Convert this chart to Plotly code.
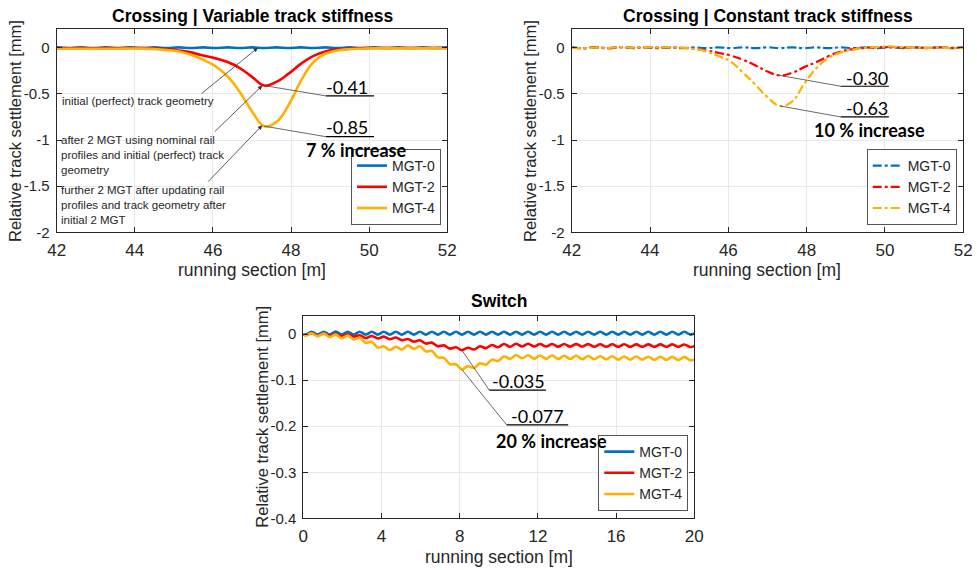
import numpy as np
import plotly.graph_objects as go

W, H = 977, 570

# ---------------- data ----------------
series_names = ["MGT-0", "MGT-2", "MGT-4"]

# crossing, sampled every 0.3125 m from 42 to 52 m
cross_x = [42.0 + 0.3125 * k for k in range(33)]

var_mgt0 = [0.004, -0.003, 0.004, -0.003, 0.004, -0.003, 0.004, -0.003, 0.004, -0.003,
            0.004, -0.003, 0.004, -0.003, 0.004, -0.003, 0.004, -0.003, 0.004, -0.003,
            0.004, -0.003, 0.004, -0.003, 0.004, -0.003, 0.004, -0.003, 0.004, -0.003,
            0.004, -0.003, 0.004]
var_mgt2 = [-0.004, -0.005, -0.004, -0.006, -0.004, -0.005, -0.003, -0.004, -0.008, -0.015,
            -0.030, -0.050, -0.085, -0.115, -0.155, -0.220, -0.315, -0.410, -0.370, -0.280,
            -0.175, -0.090, -0.040, -0.018, -0.010, -0.005, -0.002, -0.003, -0.002, -0.003,
            -0.002, -0.003, -0.002]
var_mgt4 = [-0.010, -0.011, -0.010, -0.012, -0.010, -0.011, -0.008, -0.009, -0.014, -0.024,
            -0.040, -0.075, -0.130, -0.200, -0.310, -0.480, -0.690, -0.850, -0.805, -0.620,
            -0.360, -0.160, -0.065, -0.030, -0.016, -0.010, -0.006, -0.007, -0.006, -0.007,
            -0.006, -0.007, -0.006]

const_mgt0 = [0.005, -0.006, 0.004, -0.005, 0.006, -0.004, 0.005, -0.004, 0.004, -0.004,
              0.004, -0.004, 0.004, -0.004, 0.004, -0.004, 0.004, -0.004, 0.004, -0.004,
              0.004, -0.004, 0.004, -0.004, 0.004, -0.004, 0.004, -0.004, 0.004, -0.004,
              0.004, -0.004, 0.004]
const_mgt2 = [0.003, -0.004, 0.006, -0.005, 0.007, 0.000, 0.006, 0.002, 0.005, -0.002,
              -0.010, -0.030, -0.055, -0.085, -0.130, -0.190, -0.258, -0.300, -0.272, -0.210,
              -0.155, -0.090, -0.040, -0.015, 0.000, 0.004, 0.008, 0.002, 0.005, -0.002,
              0.004, 0.000, 0.003]
const_mgt4 = [0.002, -0.005, 0.004, -0.003, 0.008, 0.002, 0.007, 0.004, 0.006, 0.000,
              -0.012, -0.040, -0.090, -0.150, -0.270, -0.400, -0.535, -0.630, -0.585, -0.390,
              -0.220, -0.110, -0.050, -0.020, 0.000, 0.008, 0.014, 0.006, 0.004, -0.002,
              0.003, -0.004, 0.002]

# switch, sampled at wave crests and troughs
switch_x = [0.0] + [round(0.12 + 0.3075 * k, 4) for k in range(65)] + [20.0]

switch_mgt0 = [0.000,
               -0.001, 0.005, -0.001, 0.005, -0.001, 0.0055, -0.001, 0.005, -0.001, 0.005,
               -0.001, 0.005, -0.001, 0.005, -0.001, 0.005, -0.001, 0.005, -0.001, 0.005,
               -0.001, 0.005, -0.001, 0.005, -0.001, 0.005, -0.001, 0.005, -0.001, 0.005,
               -0.001, 0.005, -0.001, 0.005, -0.001, 0.005, -0.001, 0.005, -0.001, 0.005,
               -0.001, 0.005, -0.001, 0.005, -0.001, 0.005, -0.001, 0.005, -0.001, 0.005,
               -0.001, 0.005, -0.001, 0.005, -0.001, 0.005, -0.001, 0.005, -0.001, 0.005,
               -0.001, 0.005, -0.001, 0.005, -0.001,
               0.0015]
switch_mgt2 = [0.000,
               -0.002, 0.002, -0.003, 0.001, -0.0035, 0.0005, -0.0045, -0.0003, -0.0055, -0.0025,
               -0.0085, -0.004, -0.0095, -0.0055, -0.011, -0.0075, -0.0135, -0.0105, -0.0165, -0.0135,
               -0.0205, -0.0185, -0.0265, -0.0245, -0.0315, -0.0285, -0.035, -0.0295, -0.0335, -0.0265,
               -0.0305, -0.0235, -0.0285, -0.0215, -0.0275, -0.021, -0.027, -0.021, -0.027, -0.0215,
               -0.027, -0.0215, -0.0272, -0.0215, -0.0272, -0.0218, -0.0273, -0.0218, -0.0275, -0.022,
               -0.0275, -0.022, -0.0276, -0.022, -0.0277, -0.0222, -0.0278, -0.0222, -0.0278, -0.0223,
               -0.0279, -0.0223, -0.028, -0.0224, -0.028,
               -0.026]
switch_mgt4 = [0.000,
               -0.003, 0.002, -0.0045, 0.0015, -0.0065, -0.001, -0.009, -0.003, -0.0115, -0.008,
               -0.019, -0.0165, -0.0295, -0.0265, -0.0345, -0.0275, -0.0335, -0.0245, -0.032, -0.0265,
               -0.0375, -0.0365, -0.0505, -0.0515, -0.0655, -0.0655, -0.077, -0.0695, -0.0735, -0.0635,
               -0.0665, -0.0555, -0.0585, -0.0485, -0.0535, -0.0455, -0.0525, -0.046, -0.0535, -0.0465,
               -0.0535, -0.0465, -0.054, -0.047, -0.054, -0.047, -0.0545, -0.0475, -0.0545, -0.048,
               -0.055, -0.048, -0.0555, -0.0485, -0.0555, -0.0485, -0.0555, -0.049, -0.056, -0.049,
               -0.056, -0.0495, -0.0565, -0.0495, -0.057,
               -0.055]

cross_xticks = [42, 44, 46, 48, 50, 52]
cross_yticks = [0, -0.5, -1, -1.5, -2]
cross_yticklabels = ["0", "-0.5", "-1", "-1.5", "-2"]
switch_xticks = [0, 4, 8, 12, 16, 20]
switch_yticks = [0, -0.1, -0.2, -0.3, -0.4]
switch_yticklabels = ["0", "-0.1", "-0.2", "-0.3", "-0.4"]

# ---------------- styling ----------------
colors = ["#0072BD", "#FF0000", "#FFB000"]
AX_FONT = "Liberation Sans, Arial, sans-serif"
LBL_FONT = "Lato, Open Sans, sans-serif"
INK = "#262626"


def px(x):
    return x / W


def py(y):
    return 1 - y / H


fig = go.Figure()

panels = [
    ("x", "y", "legend", cross_x, [var_mgt0, var_mgt2, var_mgt4], "solid", 1.2),
    ("x2", "y2", "legend2", cross_x, [const_mgt0, const_mgt2, const_mgt4], "dashdot", 1.2),
    ("x3", "y3", "legend3", switch_x, [switch_mgt0, switch_mgt2, switch_mgt4], "solid", 0.9),
]
for xa, ya, leg, xs, ys_list, dash, smooth in panels:
    for name, ys, col in zip(series_names, ys_list, colors):
        fig.add_trace(go.Scatter(
            x=xs, y=ys, name=name, mode="lines", xaxis=xa, yaxis=ya, legend=leg,
            line=dict(color=col, width=2.6 if dash == "solid" else 2.2, dash=dash,
                      shape="spline", smoothing=smooth),
        ))

axis_common = dict(
    showline=True, linecolor=INK, linewidth=1, mirror="ticks",
    ticks="inside", ticklen=5, tickcolor=INK, tickwidth=1,
    showgrid=True, gridcolor="#E8E8E8", gridwidth=1, zeroline=False,
    automargin=False,
)
xtick_font = dict(size=17, family=AX_FONT, color=INK)
ytick_font = dict(size=15, family=AX_FONT, color=INK)

top_dom_y = [py(232.3), py(29.3)]
bot_dom_y = [py(518.3), py(315.7)]

fig.update_layout(
    template="none",
    width=W, height=H, margin=dict(l=0, r=0, t=0, b=0, pad=0),
    paper_bgcolor="white", plot_bgcolor="white",
    font=dict(family=AX_FONT, color=INK),
    showlegend=True,
    xaxis=dict(axis_common, domain=[px(56.7), px(447.3)], range=[42, 52],
               tickvals=cross_xticks, anchor="y", tickfont=xtick_font, ticklabelstandoff=2),
    yaxis=dict(axis_common, domain=top_dom_y, range=[-2, 0.2],
               tickvals=cross_yticks, ticktext=cross_yticklabels, anchor="x",
               tickfont=ytick_font, ticklabelstandoff=3),
    xaxis2=dict(axis_common, domain=[px(571.7), px(963.3)], range=[42, 52],
                tickvals=cross_xticks, anchor="y2", tickfont=xtick_font, ticklabelstandoff=2),
    yaxis2=dict(axis_common, domain=top_dom_y, range=[-2, 0.2],
                tickvals=cross_yticks, ticktext=cross_yticklabels, anchor="x2",
                tickfont=ytick_font, ticklabelstandoff=3),
    xaxis3=dict(axis_common, domain=[px(303.3), px(694.3)], range=[0, 20],
                tickvals=switch_xticks, anchor="y3", tickfont=xtick_font, ticklabelstandoff=2),
    yaxis3=dict(axis_common, domain=bot_dom_y, range=[-0.4, 0.04],
                tickvals=switch_yticks, ticktext=switch_yticklabels, anchor="x3",
                tickfont=ytick_font, ticklabelstandoff=3),
)

legend_common = dict(
    bgcolor="white", bordercolor="#555555", borderwidth=1,
    font=dict(size=14, family=AX_FONT, color=INK),
    itemwidth=30, tracegroupgap=0, xanchor="right", yanchor="bottom",
)
fig.update_layout(
    legend=dict(legend_common, x=px(441), y=py(225)),
    legend2=dict(legend_common, x=px(956.7), y=py(225)),
    legend3=dict(legend_common, x=px(688.3), y=py(511)),
)

ann = []


def paper_text(text, x, y, size, bold=False, family=AX_FONT, angle=0):
    ann.append(dict(
        text=f"<b>{text}</b>" if bold else text, x=px(x), y=py(y), xref="paper", yref="paper",
        showarrow=False, xanchor="center", yanchor="middle", textangle=angle,
        font=dict(size=size, family=family, color="black" if bold else INK),
    ))


# panel titles
paper_text("Crossing | Variable track stiffness", 252, 16, 17.5, bold=True)
paper_text("Crossing | Constant track stiffness", 767.5, 16, 17.5, bold=True)
paper_text("Switch", 498.7, 301, 17.5, bold=True)

# axis titles
for cx, cy in [(251.7, 270), (767, 270), (498.8, 556.5)]:
    paper_text("running section [m]", cx, cy, 17.5)
for cx, cy in [(15, 131), (530, 131), (261.7, 417)]:
    paper_text("Relative track settlement [mm]", cx, cy, 16.5, angle=-90)

# explanatory notes with arrows (variable stiffness panel)
note_font = dict(size=11.5, family=AX_FONT, color=INK)
ann.append(dict(text="initial (perfect) track geometry", x=px(60), y=py(100.7), xref="paper", yref="paper",
                showarrow=False, xanchor="left", yanchor="middle", align="left", font=note_font))
ann.append(dict(text="after 2 MGT using nominal rail<br>profiles and initial (perfect) track<br>geometry",
                x=px(59), y=py(155), xref="paper", yref="paper",
                showarrow=False, xanchor="left", yanchor="middle", align="left", font=note_font))
ann.append(dict(text="further 2 MGT after updating rail<br>profiles and track geometry after<br>initial 2 MGT",
                x=px(59), y=py(205), xref="paper", yref="paper",
                showarrow=False, xanchor="left", yanchor="middle", align="left", font=note_font))

i2 = int(np.argmin(var_mgt2))
i4 = int(np.argmin(var_mgt4))
arrow_targets = [
    (47.15, float(np.interp(47.15, cross_x, var_mgt0)), 45.67, -0.51),
    (cross_x[i2] - 0.05, var_mgt2[i2], 46.01, -0.924),
    (cross_x[i4] - 0.05, var_mgt4[i4] + 0.01, 45.84, -1.467),
]
for hx, hy, tx, ty in arrow_targets:
    ann.append(dict(text="", x=hx, y=hy, xref="x", yref="y", ax=tx, ay=ty, axref="x", ayref="y",
                    showarrow=True, arrowhead=2, arrowsize=1.1, arrowwidth=0.8, arrowcolor="#333333",
                    standoff=0, startstandoff=0))

shapes = []


def value_callout(xa, ya, xs, ys, lab_x0, lab_x1, lab_y, text_x, text_y, text):
    """Leader line from the series minimum to an underlined value label."""
    i = int(np.argmin(ys))
    shapes.append(dict(type="line", xref=xa, yref=ya, x0=xs[i], y0=ys[i], x1=lab_x0, y1=lab_y,
                       line=dict(color="#444444", width=0.8)))
    shapes.append(dict(type="line", xref=xa, yref=ya, x0=lab_x0, y0=lab_y, x1=lab_x1, y1=lab_y,
                       line=dict(color="black", width=1.2)))
    ann.append(dict(text=text, x=text_x, y=text_y,
                    xref=xa, yref=ya, showarrow=False, xanchor="center", yanchor="middle",
                    font=dict(size=18, family=LBL_FONT, color="black")))


value_callout("x", "y", cross_x, var_mgt2, 48.894, 50.124, -0.522, 49.44, -0.42, "-0.41")
value_callout("x", "y", cross_x, var_mgt4, 48.894, 50.124, -0.964, 49.44, -0.862, "-0.85")
ann.append(dict(text="<b>7 % increase</b>", x=49.66, y=-1.113, xref="x", yref="y", showarrow=False,
                font=dict(size=18, family=LBL_FONT, color="black")))

value_callout("x2", "y2", cross_x, const_mgt2, 48.869, 50.10, -0.417, 49.54, -0.33, "-0.30")
value_callout("x2", "y2", cross_x, const_mgt4, 48.869, 50.10, -0.75, 49.54, -0.65, "-0.63")
ann.append(dict(text="<b>10 % increase</b>", x=49.6, y=-0.888, xref="x2", yref="y2", showarrow=False,
                font=dict(size=18, family=LBL_FONT, color="black")))

value_callout("x3", "y3", switch_x, switch_mgt2, 9.514, 12.41, -0.1217, 11.0, -0.102, "-0.035")
value_callout("x3", "y3", switch_x, switch_mgt4, 10.40, 13.55, -0.197, 12.0, -0.178, "-0.077")
ann.append(dict(text="<b>20 % increase</b>", x=12.69, y=-0.232, xref="x3", yref="y3", showarrow=False,
                font=dict(size=18, family=LBL_FONT, color="black")))

fig.update_layout(annotations=ann, shapes=shapes)

fig.write_html("out.html")
